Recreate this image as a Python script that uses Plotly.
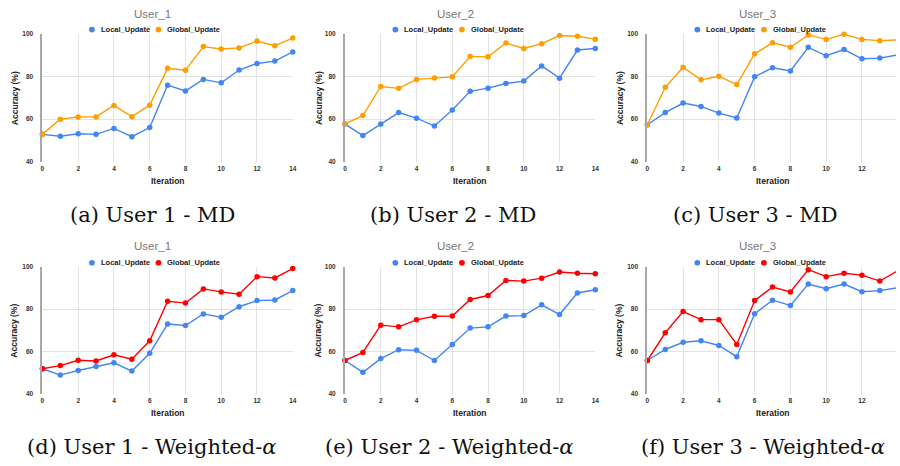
import plotly.graph_objects as go

# ---------------- data ----------------
iterations = list(range(15))
user_titles = ["User_1", "User_2", "User_3"]
series_names = ["Local_Update", "Global_Update"]
captions = [
    "(a) User 1 - MD", "(b) User 2 - MD", "(c) User 3 - MD",
    "(d) User 1 - Weighted-<i>α</i>", "(e) User 2 - Weighted-<i>α</i>", "(f) User 3 - Weighted-<i>α</i>",
]
y_ticks = [40, 60, 80, 100]
x_ticks = [0, 2, 4, 6, 8, 10, 12, 14]

md_local_u1 = [52.8, 51.9, 53.1, 52.8, 55.6, 51.7, 56.0, 75.9, 73.2, 78.6, 77.0, 83.0, 86.1, 87.2, 91.5]
md_global_u1 = [52.8, 59.9, 61.0, 61.0, 66.4, 61.1, 66.5, 83.8, 82.9, 94.0, 92.9, 93.4, 96.6, 94.4, 98.0]
md_local_u2 = [57.6, 52.2, 57.6, 63.0, 60.4, 56.7, 64.2, 73.0, 74.5, 76.7, 77.8, 84.9, 79.2, 92.4, 93.1]
md_global_u2 = [57.7, 61.6, 75.3, 74.4, 78.6, 79.3, 79.8, 89.4, 89.2, 95.7, 93.1, 95.4, 99.2, 98.9, 97.5]
md_local_u3 = [57.3, 63.0, 67.5, 65.9, 62.8, 60.5, 79.8, 84.1, 82.6, 93.7, 89.7, 92.6, 88.3, 88.6, 90.1]
md_global_u3 = [57.3, 74.9, 84.3, 78.4, 80.1, 76.2, 90.6, 95.8, 93.7, 99.5, 97.4, 99.8, 97.4, 96.8, 97.1]
wa_local_u1 = [51.8, 48.8, 51.0, 52.9, 54.6, 50.7, 59.1, 72.9, 72.2, 77.7, 76.1, 81.1, 84.0, 84.3, 88.7]
wa_global_u1 = [51.8, 53.3, 55.8, 55.5, 58.4, 56.3, 65.0, 83.7, 82.8, 89.5, 88.1, 87.0, 95.3, 94.7, 99.1]
wa_local_u2 = [55.7, 50.1, 56.6, 60.8, 60.5, 55.7, 63.3, 71.0, 71.6, 76.7, 76.9, 82.0, 77.4, 87.6, 89.1]
wa_global_u2 = [55.7, 59.5, 72.4, 71.6, 74.9, 76.6, 76.7, 84.5, 86.4, 93.5, 93.2, 94.6, 97.5, 96.9, 96.7]
wa_local_u3 = [55.7, 60.9, 64.3, 65.0, 62.8, 57.5, 77.8, 84.2, 81.7, 91.8, 89.6, 91.8, 88.2, 88.7, 90.1]
wa_global_u3 = [55.7, 68.8, 78.8, 75.0, 75.0, 63.3, 84.0, 90.4, 88.1, 98.6, 95.3, 96.9, 96.0, 93.2, 98.1]

local_series = [md_local_u1, md_local_u2, md_local_u3, wa_local_u1, wa_local_u2, wa_local_u3]
global_series = [md_global_u1, md_global_u2, md_global_u3, wa_global_u1, wa_global_u2, wa_global_u3]

# ---------------- style / layout ----------------
W, H = 900, 466
BLUE = "#4285F4"
ORANGE = "#FF9E00"
RED = "#FF0000"
global_colors = [ORANGE, ORANGE, ORANGE, RED, RED, RED]
SANS = "Liberation Sans, Arial, sans-serif"
SERIF = "DejaVu Serif, serif"

col_left = [40.7, 345.3, 649.7]      # px, plot-area left edges
plot_w = 252.0                        # px for 14 units
row_top = [30.3, 266.7]
row_h = [129.7, 129.0]
title_y = [10, 246]
legend_y = [26, 262.7]
xtitle_y = [179.5, 415.5]
caption_y = [214, 449.5]
caption_x = [[152, 454, 759], [151, 451, 766]]
panel_center = [151.5, 457, 761]
ytitle_x = [12.5, 318.5, 621.5]


def fx(p):
    return p / W


def fy(p):
    return 1 - p / H


fig = go.Figure()
annotations = []
shapes = []
layout_axes = {}

for i in range(6):
    r, c = divmod(i, 3)
    idx = "" if i == 0 else str(i + 1)
    xa, ya = "x" + idx, "y" + idx

    left = col_left[c]
    right = left + plot_w
    xmax = 14.0
    if right > W:
        xmax = 14.0 * (W - left) / plot_w
        right = W
    top = row_top[r]
    bottom = top + row_h[r]

    fig.add_trace(go.Scatter(
        x=iterations, y=local_series[i], mode="lines+markers", name=series_names[0],
        line=dict(color=BLUE, width=1.4), marker=dict(color=BLUE, size=5.5),
        xaxis=xa, yaxis=ya, showlegend=False, cliponaxis=False))
    fig.add_trace(go.Scatter(
        x=iterations, y=global_series[i], mode="lines+markers", name=series_names[1],
        line=dict(color=global_colors[i], width=1.4), marker=dict(color=global_colors[i], size=5.5),
        xaxis=xa, yaxis=ya, showlegend=False, cliponaxis=False))

    layout_axes["xaxis" + idx] = dict(
        domain=[fx(left), fx(right)], range=[0, xmax], anchor=ya,
        tickvals=x_ticks, showgrid=True, gridcolor="#e3e3e3", gridwidth=1,
        zeroline=False, showline=False, ticks="", ticklabelstandoff=2,
        tickfont=dict(family=SANS, size=6.5, color="#333333", weight="bold"),
    )
    layout_axes["yaxis" + idx] = dict(
        domain=[fy(bottom), fy(top)], range=[40, 100], anchor=xa,
        tickvals=y_ticks, showgrid=True, gridcolor="#e3e3e3", gridwidth=1,
        zeroline=False, showline=True, linecolor="#a8a8a8", linewidth=2,
        ticks="", ticklabelstandoff=6,
        tickfont=dict(family=SANS, size=6.5, color="#333333", weight="bold"),
    )

    cx = panel_center[c]
    # title
    annotations.append(dict(
        text=user_titles[c], x=fx(cx), y=fy(title_y[r]), xref="paper", yref="paper",
        xanchor="center", yanchor="middle", showarrow=False,
        font=dict(family=SANS, size=11.5, color="#777777")))
    # legend (manual)
    ly = legend_y[r]
    legend_items = [(cx - 61, BLUE, series_names[0]), (cx + 6, global_colors[i], series_names[1])]
    for dot_x, col, name in legend_items:
        rad = 2.9
        shapes.append(dict(type="circle", xref="paper", yref="paper",
                           x0=fx(dot_x - rad), x1=fx(dot_x + rad), y0=fy(ly + rad), y1=fy(ly - rad),
                           fillcolor=col, line=dict(width=0)))
        annotations.append(dict(
            text=name, x=fx(dot_x + 7), y=fy(ly), xref="paper", yref="paper",
            xanchor="left", yanchor="middle", showarrow=False,
            font=dict(family=SANS, size=7.5, color="#222222", weight="bold")))
    # axis titles
    annotations.append(dict(
        text="Accuracy (%)", x=fx(ytitle_x[c]), y=fy((top + bottom) / 2), xref="paper", yref="paper",
        xanchor="center", yanchor="middle", textangle=-90, showarrow=False,
        font=dict(family=SANS, size=8.5, color="#222222", weight="bold")))
    annotations.append(dict(
        text="Iteration", x=fx(left + plot_w / 2), y=fy(xtitle_y[r]), xref="paper", yref="paper",
        xanchor="center", yanchor="middle", showarrow=False,
        font=dict(family=SANS, size=8.5, color="#222222", weight="bold")))
    # caption
    annotations.append(dict(
        text=captions[i], x=fx(caption_x[r][c]), y=fy(caption_y[r]), xref="paper", yref="paper",
        xanchor="center", yanchor="middle", showarrow=False,
        font=dict(family=SERIF, size=21, color="#111111")))

fig.update_layout(
    width=W, height=H, margin=dict(l=0, r=0, t=0, b=0),
    paper_bgcolor="white", plot_bgcolor="white",
    showlegend=False, annotations=annotations, shapes=shapes,
    **layout_axes,
)

fig.write_html(
    "out.html",
    config={"displayModeBar": False},
    post_script="document.body.style.margin='0';document.body.style.overflow='hidden';",
)
